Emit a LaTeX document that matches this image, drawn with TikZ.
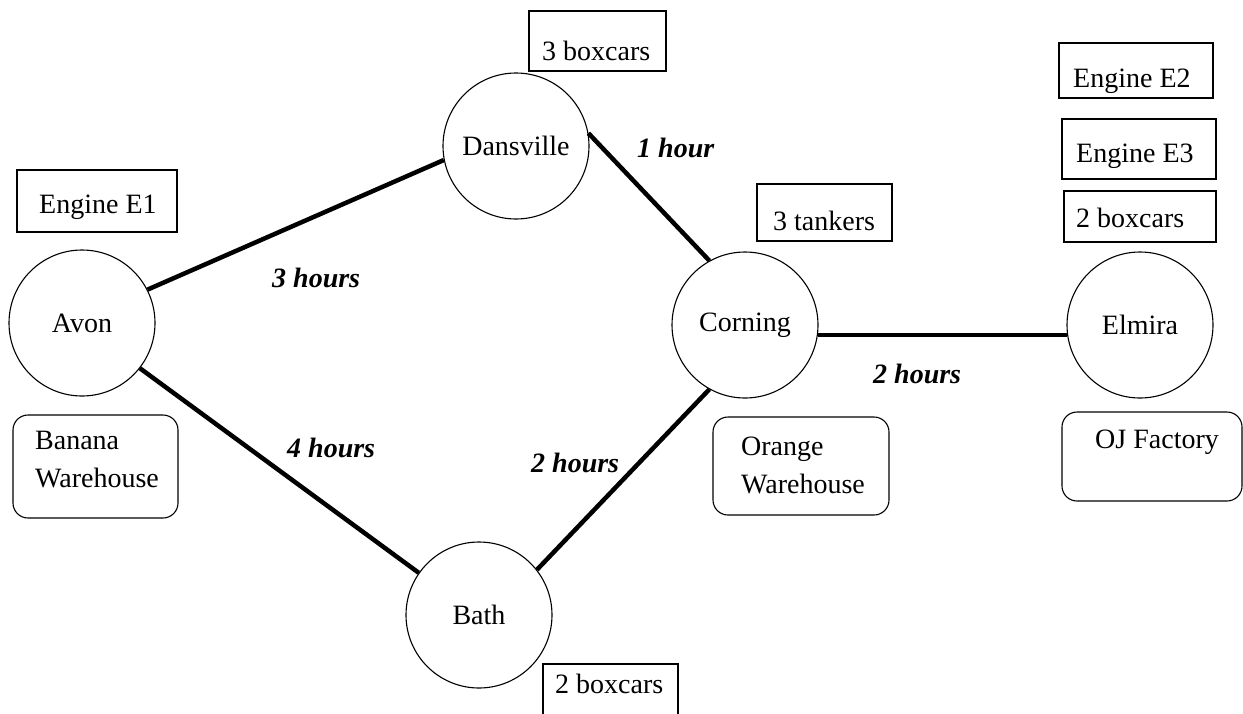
\documentclass[tikz,border=0pt]{standalone}
\usepackage{fontspec}
\setmainfont{Liberation Serif}
\begin{document}
\begin{tikzpicture}[x=1pt,y=-1pt,
  font=\fontsize{28}{38}\selectfont,
  city/.style={circle,draw,line width=1.1pt,minimum size=146pt,inner sep=0pt},
  box/.style={draw,line width=1.1pt,inner sep=0pt},
  rbox/.style={draw,line width=1.1pt,inner sep=0pt,rounded corners=15pt},
  txt/.style={inner sep=0pt,anchor=base west},
  mtxt/.style={inner sep=0pt,anchor=west,align=left},
  hrs/.style={inner sep=0pt,anchor=base west,font=\fontsize{28}{38}\selectfont\bfseries\itshape},
  conn/.style={line width=4.5pt}]
\clip (0,0) rectangle (1243,713);
\useasboundingbox (0,0) rectangle (1243,713);
% cities
\node[city] (avon) at (82,323) {Avon};
\node[city] (dans) at (516,146) {Dansville};
\node[city] (corning) at (745,325) {Corning};
\node[city] (bath) at (479,615) {Bath};
\node[city] (elmira) at (1140,325) {Elmira};
% connectors
\draw[conn] (avon.27) -- (dans.191);
\draw[conn] (dans.10) -- (corning.119);
\draw[conn] (corning.-8) -- (elmira.188);
\draw[conn] (corning.241) -- (bath.38);
\draw[conn] (avon.-38) -- (bath.145);
% edge labels
\node[hrs] (l3h) at (272,287) {3 hours};
\node[hrs] (l4h) at (287,457) {4 hours};
\node[hrs] (l1h) at (637,157) {1 hour};
\node[hrs] (l2hb) at (531,472) {2 hours};
\node[hrs] (l2he) at (873,383) {2 hours};
% boxes
\node[box,minimum width=160pt,minimum height=62pt] (e1) at (97,201) {};
\node[txt] (e1t) at (39,213) {Engine E1};
\node[box,minimum width=137pt,minimum height=60pt] (b3) at (597.5,41) {};
\node[txt] (b3t) at (542,60) {3 boxcars};
\node[box,minimum width=135pt,minimum height=57pt] (t3) at (824.5,212.5) {};
\node[txt] (t3t) at (773,230) {3 tankers};
\node[box,minimum width=154pt,minimum height=55pt] (e2) at (1136,70.5) {};
\node[txt] (e2t) at (1073,87) {Engine E2};
\node[box,minimum width=154pt,minimum height=60pt] (e3) at (1139,149) {};
\node[txt] (e3t) at (1076,162) {Engine E3};
\node[box,minimum width=152pt,minimum height=51pt] (b2r) at (1140,216.5) {};
\node[txt] (b2rt) at (1076,227) {2 boxcars};
\node[box,minimum width=135pt,minimum height=56pt] (b2b) at (610.5,692) {};
\node[txt] (b2bt) at (555,693) {2 boxcars};
% facilities
\node[rbox,minimum width=165pt,minimum height=103pt] (banana) at (95.5,466.5) {};
\node[mtxt] (bananat) at (35,460) {Banana\\Warehouse};
\node[rbox,minimum width=176pt,minimum height=98pt] (orange) at (801,466) {};
\node[mtxt] (oranget) at (741,465) {Orange\\Warehouse};
\node[rbox,minimum width=180pt,minimum height=89pt] (oj) at (1152,456.5) {};
\node[txt] (ojt) at (1095,448) {OJ Factory};
\end{tikzpicture}
\end{document}
